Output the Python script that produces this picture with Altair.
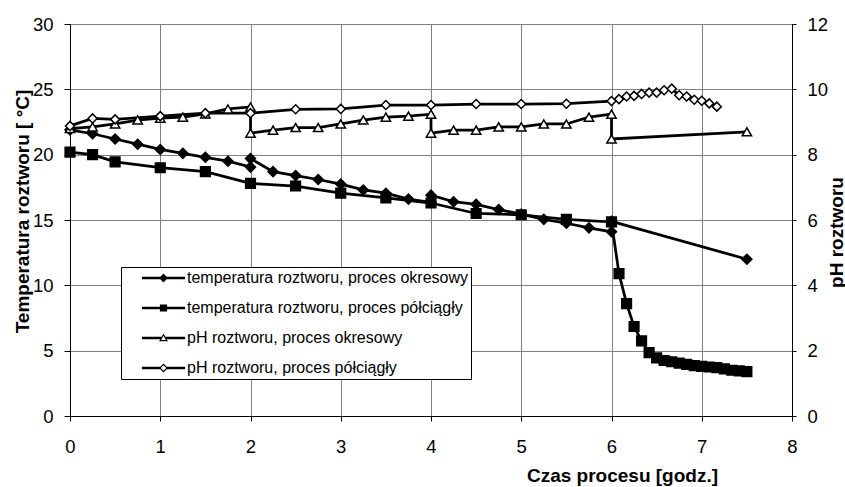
import altair as alt
import pandas as pd

S1 = "temperatura roztworu, proces okresowy"
S2 = "temperatura roztworu, proces półciągły"
S3 = "pH roztworu, proces okresowy"
S4 = "pH roztworu, proces półciągły"
series_names = [S1, S2, S3, S4]
shadow_codes = ["C1", "C2", "C3", "C4"]

# temperatura, proces okresowy (filled diamonds)
t_okr_x = [0, 0.25, 0.5, 0.75, 1, 1.25, 1.5, 1.75, 2, 2, 2.25, 2.5, 2.75, 3, 3.25, 3.5, 3.75,
           4, 4, 4.25, 4.5, 4.75, 5, 5.25, 5.5, 5.75, 6, 6, 7.5]
t_okr_y = [21.9, 21.6, 21.2, 20.8, 20.4, 20.1, 19.8, 19.5, 19.05, 19.7, 18.7, 18.4, 18.1, 17.75,
           17.3, 17.05, 16.6, 16.35, 16.9, 16.4, 16.2, 15.8, 15.45, 15.05, 14.75, 14.4, 14.1, 14.9, 12.0]

# temperatura, proces półciągły (filled squares)
t_pol_x = [0, 0.25, 0.5, 1, 1.5, 2, 2.5, 3, 3.5, 4, 4.5, 5, 5.5, 6,
           6.083, 6.167, 6.25, 6.333, 6.417, 6.5, 6.583, 6.667, 6.75, 6.833, 6.917,
           7.0, 7.083, 7.167, 7.25, 7.333, 7.417, 7.5]
t_pol_y = [20.2, 20.0, 19.45, 19.0, 18.7, 17.8, 17.6, 17.05, 16.7, 16.3, 15.5, 15.4, 15.05, 14.85,
           10.9, 8.6, 6.85, 5.75, 4.85, 4.45, 4.25, 4.15, 4.05, 3.95, 3.85,
           3.8, 3.75, 3.7, 3.6, 3.5, 3.45, 3.4]

# pH, proces okresowy (open triangles)
ph_okr_x = [0, 0.25, 0.5, 0.75, 1, 1.25, 1.5, 1.75, 2, 2, 2.25, 2.5, 2.75, 3, 3.25, 3.5, 3.75,
            4, 4, 4.25, 4.5, 4.75, 5, 5.25, 5.5, 5.75, 6, 6, 7.5]
ph_okr_y = [8.8, 8.85, 8.94, 9.06, 9.12, 9.15, 9.25, 9.4, 9.46, 8.66, 8.75, 8.83, 8.83, 8.94,
            9.06, 9.15, 9.18, 9.24, 8.66, 8.75, 8.75, 8.85, 8.85, 8.94, 8.94, 9.15, 9.24, 8.48, 8.7]

# pH, proces półciągły (open diamonds)
ph_pol_x = [0, 0.25, 0.5, 1, 1.5, 2, 2.5, 3, 3.5, 4, 4.5, 5, 5.5, 6,
            6.083, 6.167, 6.25, 6.333, 6.417, 6.5, 6.583, 6.667, 6.75, 6.833, 6.917,
            7.0, 7.083, 7.167]
ph_pol_y = [8.88, 9.11, 9.08, 9.18, 9.27, 9.27, 9.39, 9.4, 9.52, 9.52, 9.55, 9.55, 9.56, 9.64,
            9.7, 9.78, 9.8, 9.86, 9.9, 9.9, 9.97, 10.02, 9.82, 9.78, 9.68, 9.65, 9.57, 9.47]

x_ticks = [0, 1, 2, 3, 4, 5, 6, 7, 8]
t_ticks = [0, 5, 10, 15, 20, 25, 30]
ph_ticks = [0, 2, 4, 6, 8, 10, 12]


def frame(xs, ys, k):
    n = len(xs)
    return pd.DataFrame({
        "czas": xs, "wartosc": ys,
        "seria": [series_names[k]] * n,
        "cien": [shadow_codes[k]] * n,
        "idx": list(range(n)),
    })


temp_df = pd.concat([frame(t_okr_x, t_okr_y, 0), frame(t_pol_x, t_pol_y, 1)], ignore_index=True)
ph_df = pd.concat([frame(ph_okr_x, ph_okr_y, 2), frame(ph_pol_x, ph_pol_y, 3)], ignore_index=True)

FONT = "Liberation Sans"

shape_range = ["diamond", "square", "triangle-up", "diamond"]
fill_range = ["black", "black", "white", "white"]
size_range = [100, 81, 110, 150]

# legend symbols, drawn as filled black outlines (unit = 4 px); open markers are rings.
# The final zero-length segment only stretches the legend box to the right.
BOX_END = "M80.4,0L80.4,0.01Z"
p_fdiamond = ("M-5.4,-0.31H-0.8V0.31H-5.4Z M0.8,-0.31H5.4V0.31H0.8Z "
              "M-1.1,0L0,-1.1L1.1,0L0,1.1Z " + BOX_END)
p_square = ("M-5.4,-0.31H-0.8V0.31H-5.4Z M0.8,-0.31H5.4V0.31H0.8Z "
            "M-0.9,-0.9H0.9V0.9H-0.9Z " + BOX_END)
p_otri = ("M-5.4,-0.31H-0.55V0.31H-5.4Z M0.55,-0.31H5.4V0.31H0.55Z "
          "M0,-1.15L1.1,0.8L-1.1,0.8Z M0,-0.54L-0.586,0.5L0.586,0.5Z " + BOX_END)
p_odiamond = ("M-5.4,-0.31H-0.8V0.31H-5.4Z M0.8,-0.31H5.4V0.31H0.8Z "
              "M-1.1,0L0,-1.1L1.1,0L0,1.1Z M-0.676,0L0,0.676L0.676,0L0,-0.676Z " + BOX_END)
legend_shape_range = [p_fdiamond, p_square, p_otri, p_odiamond]

LX, LY = 51, 243
common_legend = dict(
    title=None, orient="none", direction="vertical", padding=3,
    labelFont=FONT, labelFontSize=16, labelColor="black", labelLimit=500,
    rowPadding=14, clipHeight=16, symbolSize=64, symbolStrokeWidth=1.5,
    symbolOffset=31.5, labelOffset=15.5,
)

legend_main = alt.Legend(
    legendX=LX, legendY=LY, fillColor="white", strokeColor="black",
    symbolFillColor="black", symbolOpacity=1, zindex=2, **common_legend,
)
legend_shadow = alt.Legend(
    legendX=LX + 4, legendY=LY + 5, fillColor="black", strokeColor="black",
    symbolType="M-5.4,0L-5.4,0.01Z " + BOX_END, symbolOpacity=0, labelOpacity=0, labelExpr="' '",
    zindex=1, **common_legend,
)

x_enc = alt.X(
    "czas:Q",
    scale=alt.Scale(domain=[0, 8], nice=False, zero=False),
    axis=alt.Axis(
        values=x_ticks, format="d", grid=True, gridColor="#808080", gridWidth=1,
        domainColor="black", domainWidth=1, tickColor="black", tickSize=5, tickWidth=1,
        labelFont=FONT, labelFontSize=18.5, labelColor="black", labelPadding=16, labelFlush=False,
        title="Czas procesu [godz.]", titleFont=FONT, titleFontSize=19, titleFontWeight="bold",
        titleColor="black", titleX=552, titleY=65, titleBaseline="alphabetic", titleAlign="center",
    ),
)

y_temp = alt.Y(
    "wartosc:Q",
    scale=alt.Scale(domain=[0, 30], nice=False, zero=False),
    axis=alt.Axis(
        orient="left", values=t_ticks, format="d", grid=True, gridColor="#808080", gridWidth=1,
        domainColor="black", domainWidth=1, tickColor="black", tickSize=6, tickWidth=1,
        labelFont=FONT, labelFontSize=18.5, labelColor="black", labelPadding=11,
        title="Temperatura roztworu [ °C]", titleFont=FONT, titleFontSize=19, titleFontWeight="bold",
        titleColor="black", titleAngle=270, titleX=-48, titleY=187, titleBaseline="middle",
        titleAlign="center",
    ),
)

y_ph = alt.Y(
    "wartosc:Q",
    scale=alt.Scale(domain=[0, 12], nice=False, zero=False),
    axis=alt.Axis(
        orient="right", values=ph_ticks, format="d", grid=False,
        domainColor="black", domainWidth=1, tickColor="black", tickSize=4, tickWidth=1,
        labelFont=FONT, labelFontSize=18.5, labelColor="black", labelPadding=11,
        title="pH roztworu", titleFont=FONT, titleFontSize=19, titleFontWeight="bold",
        titleColor="black", titleAngle=270, titleX=44, titleY=208, titleBaseline="middle",
        titleAlign="center",
    ),
)

y_hidden = alt.Y("wartosc:Q", scale=alt.Scale(domain=[0, 30], nice=False, zero=False), axis=None)


def series_layer(df, y_enc):
    base = alt.Chart(df)
    line = base.mark_line(color="black", strokeWidth=2.75).encode(
        x=x_enc, y=y_enc, detail="seria:N", order=alt.Order("idx:Q")
    )
    pts = base.mark_point(filled=True, stroke="black", strokeWidth=1.5, opacity=1).encode(
        x=x_enc, y=y_enc,
        shape=alt.Shape("seria:N", scale=alt.Scale(domain=series_names, range=shape_range), legend=None),
        fill=alt.Fill("seria:N", scale=alt.Scale(domain=series_names, range=fill_range), legend=None),
        size=alt.Size("seria:N", scale=alt.Scale(domain=series_names, range=size_range), legend=None),
    )
    return alt.layer(line, pts)


temp_layer = series_layer(temp_df, y_temp)
ph_layer = series_layer(ph_df, y_ph)

# invisible copy of the points, used only to build the legend (line + marker symbols) and its shadow
legend_layer = alt.Chart(temp_df).mark_point(filled=True, color="black").encode(
    x=x_enc, y=y_hidden,
    shape=alt.Shape("seria:N", scale=alt.Scale(domain=series_names, range=legend_shape_range), legend=legend_main),
    opacity=alt.Opacity("cien:N", scale=alt.Scale(domain=shadow_codes, range=[0, 0, 0, 0]), legend=legend_shadow),
)

chart = (
    alt.layer(temp_layer, ph_layer, legend_layer)
    .resolve_scale(y="independent", shape="independent")
    .properties(
        width=722, height=392, autosize="none",
        padding={"left": 70, "top": 24, "right": 53, "bottom": 71},
        background="white",
    )
    .configure_view(strokeWidth=0)
)

chart.save("out.html", embed_options={"renderer": "svg", "actions": False})
